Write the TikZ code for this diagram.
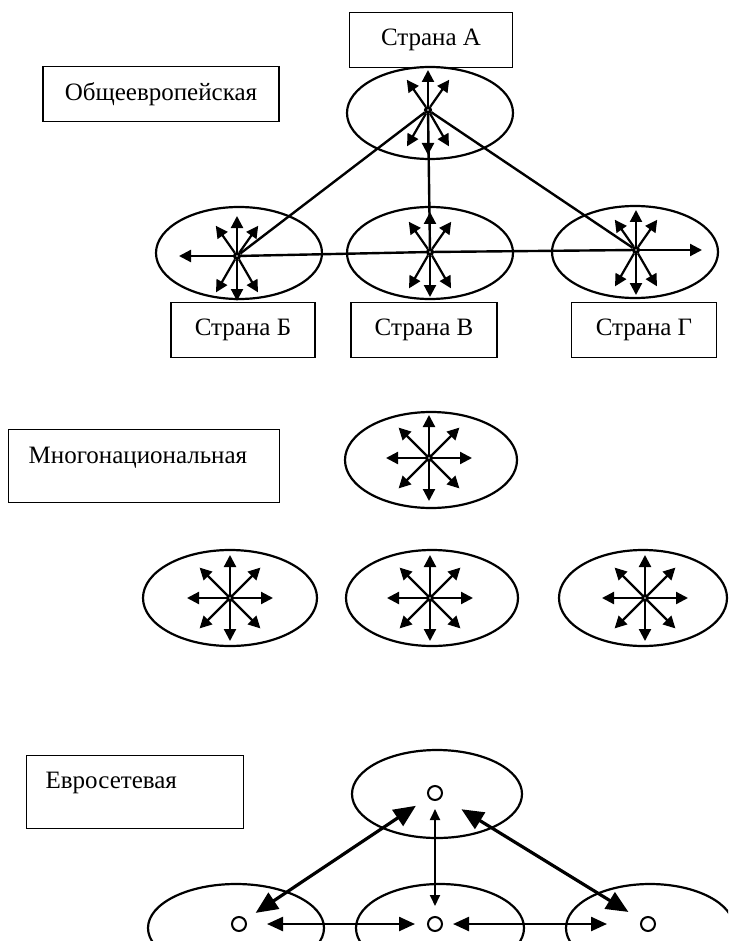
\documentclass[tikz,border=0pt]{standalone}
\usepackage{fontspec}
\setmainfont{Liberation Serif}
\usetikzlibrary{arrows.meta,shapes.geometric}

\begin{document}
\begin{tikzpicture}[x=1pt, y=-1pt,
    every node/.style={font=\fontsize{25}{30}\selectfont},
    land/.style={draw, ellipse, line width=2.2pt, inner sep=0pt, minimum width=166pt, minimum height=92pt},
    hub/.style={draw, circle, line width=3pt, fill=white, inner sep=0pt, minimum size=5pt},
    port/.style={draw, circle, line width=2pt, inner sep=0pt, minimum size=14pt},
    tag/.style={draw, line width=1.3pt, inner sep=0pt, minimum height=55pt},
    ray/.style={line width=2.2pt, -{Triangle[length=12pt,width=12pt]}},
    fat/.style={line width=3.2pt, {Triangle[length=22pt,width=19pt]}-{Triangle[length=22pt,width=19pt]}},
    thin/.style={line width=1.8pt, {Triangle[length=11pt,width=10pt]}-{Triangle[length=11pt,width=10pt]}},
    mid/.style={line width=2.4pt, {Triangle[length=16pt,width=14pt]}-{Triangle[length=16pt,width=14pt]}}]
    \useasboundingbox (0, 0) rectangle (728, 941);
    \clip (0, 0) rectangle (728, 941);

    % Общеевропейская
    \node[land] at (430, 113)(a1){};
    \node[land] at (239, 253)(b1){};
    \node[land] at (430, 253)(v1){};
    \node[land] at (635, 252)(g1){};
    \node[tag, minimum width=163pt] at (431, 40)(ta){Страна А};
    \node[tag, minimum width=236pt] at (161, 94)(te){Общеевропейская};
    \node[tag, minimum width=144pt] at (243, 330)(tb){Страна Б};
    \node[tag, minimum width=146pt] at (424, 330)(tv){Страна В};
    \node[tag, minimum width=145pt] at (644, 330)(tg){Страна Г};

    \node[hub] at (428, 110)(ha1){};
    \node[hub] at (237, 256)(hb1){};
    \node[hub] at (430, 252)(hv1){};
    \node[hub] at (636, 250)(hg1){};

    \path[draw, line width=2.4pt]
        (ha1) -- (hb1)
        (ha1) -- (hv1)
        (ha1) -- (hg1)
        (hb1) -- (hv1) -- (hg1)
        ;
    \draw[ray] (hb1) -- ++(180:58pt);
    \draw[ray] (hg1) -- ++(0:66pt);
    \foreach \h in {ha1,hb1,hv1,hg1}
        \foreach \a/\l in {90/40,125/37,55/37,-90/45,-120/42,-60/42}
            \draw[ray] (\h) -- ++(\a:\l pt);

    % Многонациональная
    \node[tag, anchor=north west, align=left, text width=231pt, inner xsep=20pt,
        text height=34pt, text depth=39pt] at (8, 429)(tm){Многонациональная};
    \node[land, minimum width=172pt, minimum height=96pt] at (431, 460)(a2){};
    \node[land, minimum width=174pt, minimum height=96pt] at (230, 598)(b2){};
    \node[land, minimum width=172pt, minimum height=96pt] at (432, 598)(v2){};
    \node[land, minimum width=168pt, minimum height=96pt] at (643, 598)(g2){};

    \node[hub] at (429, 458)(ha2){};
    \node[hub] at (230, 598)(hb2){};
    \node[hub] at (430, 598)(hv2){};
    \node[hub] at (645, 598)(hg2){};
    \foreach \h in {ha2,hb2,hv2,hg2}
        \foreach \a in {0,45,...,315}
            \draw[ray] (\h) -- ++(\a:43pt);

    % Евросетевая
    \node[tag, anchor=north west, align=left, text width=179pt, inner xsep=19pt,
        text height=33pt, text depth=40pt] at (26, 755)(tn){Евросетевая};
    \node[land, minimum width=170pt, minimum height=88pt] at (437, 794)(a3){};
    \node[land, minimum width=176pt, minimum height=88pt] at (236, 928)(b3){};
    \node[land, minimum width=168pt, minimum height=88pt] at (440, 928)(v3){};
    \node[land, minimum width=168pt, minimum height=88pt] at (650, 928)(g3){};

    \node[port] at (435, 793)(pa){};
    \node[port] at (239, 924)(pb){};
    \node[port] at (435, 924)(pv){};
    \node[port] at (648, 924)(pg){};

    \draw[fat, shorten <=15pt, shorten >=12pt] (pa) -- (pb);
    \draw[fat, shorten <=23pt, shorten >=15pt] (pa) -- (pg);
    \draw[thin, shorten <=8pt, shorten >=10pt] (pa) -- (pv);
    \draw[mid, shorten <=20pt, shorten >=12pt] (pb) -- (pv);
    \draw[mid, shorten <=10pt, shorten >=33pt] (pv) -- (pg);
\end{tikzpicture}
\end{document}
